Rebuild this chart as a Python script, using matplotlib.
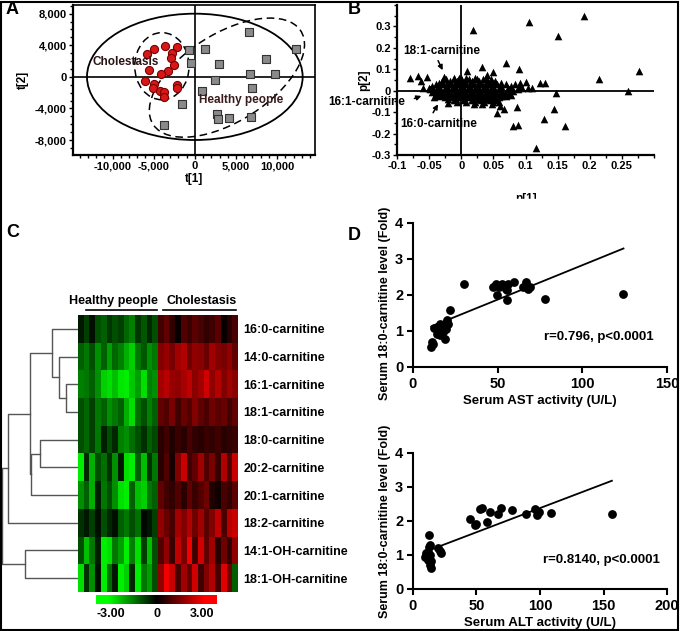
import matplotlib.pyplot as plt
import matplotlib.patches as mpatches
from matplotlib.colors import LinearSegmentedColormap, Normalize
from matplotlib.ticker import MultipleLocator, FuncFormatter
import numpy as np

# ---------------- data ----------------
# A: score plot t[1] / t[2]
chol_t1 = [-5850, -5000, -3570, -2200, -2800, -2850, -2480, -5570, -3250, -4100,
           -6100, -5000, -5080, -4270, -3780, -3780, -2160, -2160]
chol_t2 = [2880, 3560, 3850, 3720, 3000, 2450, 1520, 850, 800, 380,
           -510, -930, -1360, -1820, -1900, -2540, -970, -1400]
healthy_t1 = [-730, 1220, -410, 2930, 6590, 12300, 8620, 6670, 9760, 2480,
              850, 6910, -1590, 2640, 2800, 4150, 6790, -3780]
healthy_t2 = [3340, 3520, 1740, 1610, 5670, 3560, 2290, 420, 380, -380,
              -1740, -1440, -3470, -4700, -5290, -5200, -5120, -6140]

# B: loading plot p[1] / p[2] - outlying variables
load_p1 = [0.019, 0.105, 0.191, 0.150, 0.070, 0.032, 0.090, 0.050, 0.009, 0.276,
           0.215, 0.260, 0.148, 0.131, 0.123, 0.110, 0.100, 0.092, 0.144, 0.086,
           0.066, 0.055, 0.129, 0.161, 0.088, 0.081, 0.116, -0.080, -0.068, -0.053,
           -0.060, -0.043, -0.020, -0.030, -0.027, 0.078, 0.070, -0.063, 0.060, 0.040]
load_p2 = [0.284, 0.323, 0.347, 0.256, 0.128, 0.113, 0.102, 0.089, 0.092, 0.094,
           0.055, 0.000, -0.012, 0.037, 0.034, 0.011, 0.042, 0.034, -0.086, -0.075,
           -0.083, -0.103, -0.133, -0.164, -0.158, -0.164, -0.266, 0.061, 0.069, 0.066,
           0.011, -0.031, -0.055, -0.020, 0.066, -0.022, -0.020, 0.045, -0.070, 0.075]
# B: dense cluster of variables near the origin (rows of p[2] with their p[1] values)
cluster_p2 = [0.06, 0.0525, 0.045, 0.0375, 0.03, 0.0225, 0.015, 0.0075, 0.0,
              -0.0075, -0.015, -0.0225, -0.03, -0.0375, -0.045, -0.0525, -0.06]
cluster_p1 = [
    [-0.012, 0.0, 0.008, 0.022, 0.038, -0.004],
    [-0.024, -0.012, 0.0, 0.012, 0.024, 0.034, 0.046],
    [-0.03, -0.018, -0.006, 0.006, 0.016, 0.028, 0.04, 0.052],
    [-0.034, -0.022, -0.01, 0.002, 0.014, 0.026, 0.038, 0.05, 0.062],
    [-0.04, -0.028, -0.016, -0.004, 0.008, 0.02, 0.032, 0.044, 0.056, 0.07, 0.084],
    [-0.046, -0.034, -0.022, -0.01, 0.002, 0.014, 0.026, 0.038, 0.05, 0.062, 0.078, 0.09],
    [-0.05, -0.038, -0.026, -0.014, -0.002, 0.01, 0.022, 0.034, 0.046, 0.058, 0.072, 0.094, 0.104],
    [-0.048, -0.036, -0.024, -0.012, 0.0, 0.012, 0.024, 0.036, 0.048, 0.06, 0.074, 0.088],
    [-0.044, -0.032, -0.02, -0.008, 0.004, 0.016, 0.028, 0.04, 0.052, 0.064, 0.08],
    [-0.046, -0.034, -0.022, -0.01, 0.002, 0.014, 0.026, 0.038, 0.05, 0.062, 0.074],
    [-0.04, -0.028, -0.016, -0.004, 0.008, 0.02, 0.032, 0.044, 0.056, 0.068, 0.076],
    [-0.034, -0.022, -0.01, 0.002, 0.014, 0.026, 0.038, 0.05, 0.062, 0.07],
    [-0.026, -0.014, -0.002, 0.01, 0.022, 0.034, 0.046, 0.058],
    [-0.02, -0.008, 0.004, 0.016, 0.028, 0.04, 0.052],
    [-0.012, 0.002, 0.016, 0.03, 0.044, 0.054],
    [-0.006, 0.008, 0.022, 0.036, 0.05, 0.058],
    [0.02, 0.032, 0.048],
]

# C: heatmap (rows = carnitines, 14 healthy + 14 cholestasis samples)
carnitines = ['16:0-carnitine', '14:0-carnitine', '16:1-carnitine', '18:1-carnitine',
              '18:0-carnitine', '20:2-carnitine', '20:1-carnitine', '18:2-carnitine',
              '14:1-OH-carnitine', '18:1-OH-carnitine']
heat_healthy = [
    [-0.3, -0.8, -0.2, -1.0, -1.2, -0.7, -1.0, -0.8, -1.3, -1.6, -0.7, -1.1, -0.5, -1.0],
    [-1.2, -1.5, -1.0, -1.8, -1.2, -2.0, -1.3, -1.6, -2.2, -2.6, -1.5, -1.1, -1.8, -1.5],
    [-1.6, -1.5, -1.2, -1.8, -2.6, -2.8, -2.4, -2.9, -3.0, -2.5, -2.0, -2.8, -1.6, -1.8],
    [-1.0, -1.3, -0.8, -1.5, -1.2, -1.8, -1.5, -1.2, -2.2, -2.8, -1.4, -1.0, -1.6, -1.2],
    [-1.0, -1.3, -0.8, -1.5, -0.4, -1.0, -0.5, -1.6, -1.8, -1.4, -1.0, -0.6, -1.2, -0.9],
    [-3.0, -0.5, -2.2, -1.0, -1.4, -0.6, -1.8, -0.3, -2.8, -3.0, -1.2, -2.4, -0.6, -1.5],
    [-1.8, -1.2, -2.2, -0.4, -1.5, -1.0, -1.8, -2.8, -3.0, -1.2, -2.4, -2.6, -1.5, -1.2],
    [-0.6, -0.3, -0.8, -0.2, -1.0, -0.5, -0.2, -1.2, -1.5, -1.0, -1.4, -0.1, -0.3, -0.8],
    [-1.0, -2.4, -1.5, -0.4, -3.0, -2.8, -1.5, -2.0, -3.0, -1.6, -2.8, -0.8, -2.4, -1.0],
    [-2.8, -0.6, -1.8, -0.2, -3.0, -1.4, -0.3, -3.0, -2.6, -0.5, -3.0, -1.5, -2.0, -1.0],
]
heat_chol = [
    [0.8, 1.2, 0.6, 0.1, 1.0, 0.7, 1.1, 0.9, 0.6, 0.8, 1.1, 0.1, 0.5, 0.9],
    [1.6, 1.9, 1.5, 2.0, 2.2, 1.4, 1.8, 1.7, 1.3, 2.0, 1.6, 1.5, 1.8, 1.2],
    [2.0, 2.3, 1.9, 1.8, 2.1, 2.4, 1.7, 2.0, 2.6, 1.8, 2.2, 1.6, 2.0, 1.7],
    [1.2, 1.0, 1.5, 0.8, 1.3, 1.0, 1.6, 1.2, 0.9, 1.4, 1.1, 1.3, 0.8, 1.2],
    [0.5, 0.8, 0.4, 0.7, 0.5, 0.9, 0.6, 0.5, 0.7, 0.6, 0.8, 0.5, 0.6, 0.7],
    [0.5, 1.0, 0.3, 1.6, 2.5, 0.8, 1.2, 2.0, 1.0, 1.5, 0.7, 2.2, 1.0, 2.5],
    [1.2, 0.8, 0.6, 1.0, 0.5, 1.2, 0.7, 1.0, 1.4, 0.4, 0.2, 0.9, 0.6, 1.1],
    [1.8, 1.3, 0.9, 2.0, 1.6, 2.2, 1.4, 2.0, 1.1, 1.6, 2.4, 0.9, 2.3, 2.5],
    [1.0, 1.8, 0.7, 2.4, 1.5, 3.0, 0.8, 2.6, 1.2, 2.0, 0.5, 1.4, 0.6, 1.8],
    [1.8, 3.0, 2.5, 0.9, 2.0, 1.2, 2.6, 0.8, 1.6, 2.2, 0.9, 2.8, 1.4, -1.2],
]
# dendrogram merges: (child a, child b, distance); leaves 0-9, new nodes numbered from 10
dendro_merges = [(2, 3, 0.35), (1, 10, 0.57), (0, 11, 0.77), (4, 5, 1.13), (13, 6, 1.40),
                 (12, 14, 1.43), (15, 7, 2.10), (8, 9, 1.60), (16, 17, 2.27)]

# D: correlation with serum enzymes
ast = [10.8, 11.8, 11.2, 12.2, 14.1, 15.5, 16.0, 17.6, 15.1, 14.1, 16.1, 18.0, 19.0, 19.6,
       20.0, 20.4, 22.0, 30.2, 47.5, 49.0, 49.4, 51.0, 52.4, 54.7, 55.3, 56.3, 55.3, 59.6,
       64.7, 66.7, 68.0, 69.0, 77.8, 124.3]
ast_fold = [0.56, 0.63, 0.69, 1.09, 1.11, 1.13, 1.20, 1.18, 1.02, 0.93, 0.88, 0.97, 0.79, 1.06,
            1.30, 1.19, 1.57, 2.31, 2.22, 2.30, 1.99, 2.22, 2.31, 2.18, 1.85, 2.31, 2.13, 2.36,
            2.22, 2.36, 2.18, 2.22, 1.90, 2.04]
alt = [9.2, 12.4, 11.6, 12.4, 13.7, 11.6, 13.2, 14.2, 14.5, 13.7, 10.5, 19.7, 21.0, 22.4,
       44.5, 48.7, 49.7, 52.6, 54.5, 58.4, 60.5, 66.8, 69.0, 78.2, 89.2, 96.0, 97.9, 99.5,
       109.0, 156.6]
alt_fold = [0.94, 1.59, 1.10, 1.25, 1.30, 0.86, 0.71, 0.61, 0.81, 1.00, 1.05, 1.20, 1.13, 1.05,
            2.06, 1.88, 1.91, 2.34, 2.37, 1.98, 2.27, 2.20, 2.37, 2.32, 2.20, 2.34, 2.18, 2.27,
            2.24, 2.20]
ast_fit = (0.0191, 0.918)   # slope, intercept
alt_fit = (0.0142, 0.960)

# ---------------- style ----------------
plt.rcParams['font.family'] = ['Liberation Sans', 'DejaVu Sans']
plt.rcParams['font.weight'] = 'bold'
plt.rcParams['axes.labelweight'] = 'bold'
plt.rcParams['axes.unicode_minus'] = False

W, H = 680, 631
fig = plt.figure(figsize=(W / 100, H / 100), dpi=100)


def box(x0, y0, x1, y1):
    # pixel box (top-left origin) -> figure fraction rect
    return [x0 / W, 1 - y1 / H, (x1 - x0) / W, (y1 - y0) / H]


def panel_label(x, y, s):
    fig.text(x / W, 1 - y / H, s, fontsize=13, fontweight='bold', va='center', ha='left')


# ---------------- A: score plot ----------------
axA = fig.add_axes(box(73, 5, 315, 155))
axA.add_patch(mpatches.Ellipse((0, 0), 26200, 16000, fill=False, lw=1.3, color='black'))
axA.add_patch(mpatches.Ellipse((-4000, 1350), 6600, 8500, fill=False, lw=1.1,
                               ls=(0, (5, 3)), color='black'))
axA.add_patch(mpatches.Ellipse((3900, -100), 21500, 11000, angle=34, fill=False, lw=1.1,
                               ls=(0, (5, 3)), color='black'))
axA.axhline(0, color='black', lw=1.2)
axA.axvline(0, color='black', lw=1.2)
axA.scatter(healthy_t1, healthy_t2, marker='s', s=28, color='#8a8a8a', edgecolor='#333333',
            lw=0.8, zorder=3)
axA.scatter(chol_t1, chol_t2, marker='o', s=34, color='#d81818', edgecolor='#7a0000',
            lw=0.8, zorder=3)
axA.text(-12400, 1870, 'Cholestasis', fontsize=8.5, va='center', color='#2a1414')
axA.text(500, -2900, 'Healthy people', fontsize=8.5, va='center', color='#3a1c1c')
axA.set_xlim(-14800, 14600)
axA.set_ylim(-9900, 9100)
axA.xaxis.set_major_locator(MultipleLocator(5000))
axA.xaxis.set_minor_locator(MultipleLocator(1000))
axA.yaxis.set_major_locator(MultipleLocator(4000))
axA.yaxis.set_minor_locator(MultipleLocator(1000))
axA.xaxis.set_major_formatter(FuncFormatter(lambda v, p: f'{v:,.0f}'))
axA.yaxis.set_major_formatter(FuncFormatter(lambda v, p: f'{v:,.0f}'))
axA.tick_params(which='both', direction='out', labelsize=8, length=3, width=1, pad=1.5)
axA.tick_params(which='minor', length=2)
axA.set_xlabel('t[1]', fontsize=8.5, labelpad=1)
axA.set_ylabel('t[2]', fontsize=8.5, labelpad=4)
for sp in axA.spines.values():
    sp.set_linewidth(1.2)
axA.spines['left'].set_linewidth(1.6)
axA.spines['bottom'].set_linewidth(1.6)

# ---------------- B: loading plot ----------------
axB = fig.add_axes(box(397, 5, 654, 155))
axB.axhline(0, color='black', lw=1.3)
axB.axvline(0, color='black', lw=1.3)
clu_x = [x for row in cluster_p1 for x in row]
clu_y = [y for y, row in zip(cluster_p2, cluster_p1) for x in row]
axB.scatter(clu_x, clu_y, marker='^', s=30, color='black', lw=0, zorder=3)
axB.scatter(load_p1, load_p2, marker='^', s=30, color='black', lw=0, zorder=3)
arrow = dict(arrowstyle='-|>', color='black', lw=1.1, mutation_scale=7)
axB.annotate('', xy=(-0.027, 0.084), xytext=(-0.038, 0.152), arrowprops=arrow)
axB.text(-0.091, 0.185, '18:1-carnitine', fontsize=8.5, va='center')
axB.annotate('', xy=(-0.058, -0.020), xytext=(-0.077, -0.041), arrowprops=arrow)
axB.text(-0.088, -0.052, '16:1-carnitine', fontsize=8.5, va='center', ha='right',
         clip_on=False)
axB.annotate('', xy=(-0.034, -0.052), xytext=(-0.046, -0.114), arrowprops=arrow)
axB.text(-0.095, -0.156, '16:0-carnitine', fontsize=8.5, va='center')
axB.set_xlim(-0.1, 0.3)
axB.set_ylim(-0.3, 0.4)
axB.set_xticks([-0.1, -0.05, 0, 0.05, 0.1, 0.15, 0.2, 0.25])
axB.set_yticks([-0.3, -0.2, -0.1, 0, 0.1, 0.2, 0.3])
axB.xaxis.set_minor_locator(MultipleLocator(0.025))
axB.yaxis.set_minor_locator(MultipleLocator(0.05))
axB.xaxis.set_major_formatter(FuncFormatter(lambda v, p: f'{v:g}'))
axB.yaxis.set_major_formatter(FuncFormatter(lambda v, p: f'{v:g}'))
axB.tick_params(which='both', direction='out', labelsize=8, length=3, width=1, pad=1.5)
axB.tick_params(which='minor', length=2)
axB.spines['top'].set_visible(False)
axB.spines['right'].set_visible(False)
axB.spines['left'].set_linewidth(1.6)
axB.spines['bottom'].set_linewidth(1.6)
axB.set_ylabel('p[2]', fontsize=8.5, labelpad=1)
axB.set_xlabel('p[1]', fontsize=8.5, labelpad=16)

# ---------------- C: heatmap ----------------
heat = np.hstack([np.array(heat_healthy), np.array(heat_chol)])
cmap = LinearSegmentedColormap.from_list('gkr', [(0, 1, 0), (0, 0, 0), (1, 0, 0)])
norm = Normalize(vmin=-3.2, vmax=3.2)
axC = fig.add_axes(box(78, 315, 238, 592))
axC.imshow(heat, cmap=cmap, norm=norm, aspect='auto', interpolation='nearest')
axC.set_xticks([])
axC.set_yticks(range(len(carnitines)))
axC.set_yticklabels(carnitines, fontsize=9)
axC.yaxis.tick_right()
axC.tick_params(axis='y', length=0, pad=4)
for sp in axC.spines.values():
    sp.set_visible(False)

# group labels with lines above
fig.text(113 / W, 1 - 301 / H, 'Healthy people', fontsize=9, ha='center', va='center')
fig.text(202 / W, 1 - 301 / H, 'Cholestasis', fontsize=9, ha='center', va='center')
fig.add_artist(plt.Line2D([86 / W, 157 / W], [1 - 310 / H] * 2, color='black', lw=1.2))
fig.add_artist(plt.Line2D([163 / W, 236 / W], [1 - 310 / H] * 2, color='black', lw=1.2))

# dendrogram
axDen = fig.add_axes(box(0, 315, 78, 592))
pos = {i: (float(i), 0.0) for i in range(len(carnitines))}
for k, (a, b, h) in enumerate(dendro_merges):
    ya, ha = pos[a]
    yb, hb = pos[b]
    axDen.plot([ha, h, h, hb], [ya, ya, yb, yb], color='#555555', lw=1)
    pos[len(carnitines) + k] = ((ya + yb) / 2, h)
axDen.set_ylim(len(carnitines) - 0.5, -0.5)
axDen.set_xlim(2.34, 0)
axDen.axis('off')

# colour key
axCb = fig.add_axes(box(96, 595, 217, 604))
axCb.imshow(np.linspace(-4.0, 4.0, 256)[None, :], cmap=cmap, norm=norm, aspect='auto',
            extent=(-4.0, 4.0, 0, 1))
axCb.set_yticks([])
axCb.set_xticks([-3, 0, 3])
axCb.set_xticklabels(['-3.00', '0', '3.00'], fontsize=9)
axCb.tick_params(axis='x', length=0, pad=3)
for sp in axCb.spines.values():
    sp.set_visible(False)


# ---------------- D: correlations ----------------
def corr_panel(rect, x, y, fit, xmax, xstep, xlabel, stat, stat_xy, ylab_pos):
    ax = fig.add_axes(rect)
    ax.scatter(x, y, s=40, color='black', lw=0, zorder=3)
    xl = np.array([min(x), max(x)])
    ax.plot(xl, fit[0] * xl + fit[1], color='black', lw=1.3)
    ax.text(stat_xy[0], stat_xy[1], stat, fontsize=9.5, va='center')
    ax.set_xlim(0, xmax)
    ax.set_ylim(0, 4)
    ax.set_xticks(np.arange(0, xmax + 1, xstep))
    ax.set_yticks([0, 1, 2, 3, 4])
    ax.spines['top'].set_visible(False)
    ax.spines['right'].set_visible(False)
    ax.spines['left'].set_linewidth(1.5)
    ax.spines['bottom'].set_linewidth(1.5)
    ax.tick_params(direction='out', labelsize=10.5, length=4, width=1.5, pad=3)
    ax.set_xlabel(xlabel, fontsize=9.5, labelpad=3)
    ax.set_ylabel('Serum 18:0-carnitine level (Fold)', fontsize=9)
    ax.yaxis.set_label_coords(-0.085, ylab_pos)
    return ax


corr_panel(box(413, 223, 667, 367), ast, ast_fold, ast_fit, 150, 50,
           'Serum AST activity (U/L)', 'r=0.796, p<0.0001', (77.3, 0.83), 0.44)
corr_panel(box(413, 453, 667, 589), alt, alt_fold, alt_fit, 200, 50,
           'Serum ALT activity (U/L)', 'r=0.8140, p<0.0001', (102.6, 0.86), 0.5)

# B's x label is partly hidden under panel D in the original
fig.add_artist(mpatches.Rectangle((470 / W, 1 - 214 / H), 120 / W, 15 / H,
                                  transform=fig.transFigure, color='white', zorder=10))

# panel letters and outer frame
panel_label(6, 10, 'A')
panel_label(348, 10, 'B')
panel_label(6, 233, 'C')
panel_label(348, 236, 'D')
fig.add_artist(mpatches.Rectangle((0.002, 0.002), 0.995, 0.995, transform=fig.transFigure,
                                  fill=False, lw=1.5, color='black', zorder=20))

fig.savefig('out.png', dpi=100)
